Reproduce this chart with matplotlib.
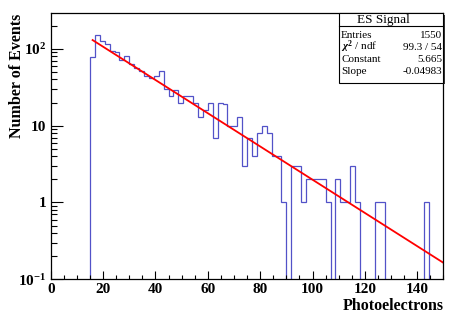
import matplotlib
matplotlib.use("Agg")
import matplotlib.pyplot as plt
from matplotlib.patches import Rectangle
from matplotlib.ticker import MultipleLocator, LogLocator, NullFormatter, FixedLocator, FixedFormatter
import numpy as np

plt.rcParams['font.family'] = ['Liberation Serif', 'DejaVu Serif']
plt.rcParams['font.weight'] = 'bold'
plt.rcParams['mathtext.fontset'] = 'custom'
plt.rcParams['mathtext.rm'] = 'Liberation Serif:bold'
plt.rcParams['mathtext.it'] = 'Liberation Serif:italic'
plt.rcParams['mathtext.bf'] = 'Liberation Serif:bold'

#region data
hist_lo, hist_hi, n_bins = 0.0, 150.0, 80
first_bin = 8   # bins below 15 are empty
counts = [78, 152, 128, 116, 94, 90, 72, 81, 63, 57, 51, 44, 42, 44, 51,
          30, 24, 29, 20, 24, 24, 20, 13, 16, 20, 7, 20, 19, 10, 10, 13,
          3, 7, 4, 8, 10, 8, 4, 4, 1,
          0,
          3, 3, 1, 2, 2, 2, 2, 1, 0, 2, 1, 1, 3, 1,
          0, 0, 0,
          1, 1,
          0, 0, 0, 0, 0, 0, 0, 0,
          1,
          0, 0, 0]
fit_constant = 5.665
fit_slope = -0.04983
fit_range = (16, 150)
stats_title = "ES Signal"
stats_rows = [("Entries", "1550"),
              (r"$\mathit{\chi}^{2}$ / ndf", "99.3 / 54"),
              ("Constant", "5.665"),
              ("Slope", "-0.04983")]
ytick_vals = [0.1, 1, 10, 100]
ytick_text = ["10$^{-1}$", "1", "10", "10$^{2}$"]
#endregion

W, H = 456, 314
def fx(x): return x / W
def fy(y): return 1 - y / H

fig = plt.figure(figsize=(W / 100, H / 100), dpi=100)
ax = fig.add_axes([fx(50.7), fy(279.3), fx(443.5) - fx(50.7), fy(13.3) - fy(279.3)])

edges = np.linspace(hist_lo, hist_hi, n_bins + 1)
vals = np.zeros(n_bins)
vals[first_bin:first_bin + len(counts)] = counts
vals = np.where(vals > 0, vals, 1e-3)
ax.stairs(vals, edges, color='#5252c8', lw=0.9, baseline=None)

xf = np.linspace(fit_range[0], fit_range[1], 300)
ax.plot(xf, np.exp(fit_constant + fit_slope * xf), color='#ff0000', lw=1.3)

ax.set_yscale('log')
ax.set_xlim(0, 150)
ax.set_ylim(0.1, 290)

ax.xaxis.set_major_locator(MultipleLocator(20))
ax.xaxis.set_minor_locator(MultipleLocator(5))
ax.yaxis.set_major_locator(FixedLocator(ytick_vals))
ax.yaxis.set_major_formatter(FixedFormatter(ytick_text))
ax.yaxis.set_minor_locator(LogLocator(base=10, subs=np.arange(2, 10)))
ax.yaxis.set_minor_formatter(NullFormatter())

ax.tick_params(axis='both', which='both', direction='in', top=False, right=False,
               labelsize=11, width=0.8, color='black')
ax.tick_params(axis='x', which='major', length=5.8, pad=3)
ax.tick_params(axis='x', which='minor', length=2.9)
ax.tick_params(axis='y', which='major', length=8.6, pad=3)
ax.tick_params(axis='y', which='minor', length=4.3)
for s in ax.spines.values():
    s.set_linewidth(0.9)

fig.text(fx(443.5), fy(306), "Photoelectrons", ha='right', va='center', fontsize=11.5, fontweight='bold')
fig.text(fx(17.5), fy(14), "Number of Events", ha='center', va='top', rotation=90,
         fontsize=11.5, fontweight='bold')

# stats box
bx0, bx1, by0, by1 = 339.3, 443.5, 13.3, 82.7
fig.patches.append(Rectangle((fx(bx0 + 1.5), fy(by1 + 1.5)), fx(bx1) - fx(bx0), fy(by0) - fy(by1),
                             transform=fig.transFigure, facecolor='#333333', edgecolor='none', zorder=5))
fig.patches.append(Rectangle((fx(bx0), fy(by1)), fx(bx1) - fx(bx0), fy(by0) - fy(by1),
                             transform=fig.transFigure, facecolor='white', edgecolor='black', lw=0.8, zorder=6))
fig.lines.append(plt.Line2D([fx(bx0), fx(bx1)], [fy(25.5), fy(25.5)], transform=fig.transFigure,
                            color='black', lw=0.8, zorder=7))
fig.text(fx(383), fy(19.5), stats_title, ha='center', va='center', fontsize=9.5, fontweight='normal', zorder=8)
for i, (name, val) in enumerate(stats_rows):
    y = 35 + 12 * i
    fig.text(fx(341), fy(y), name, ha='left', va='center', fontsize=8, fontweight='normal', zorder=8)
    fig.text(fx(442.5), fy(y), val, ha='right', va='center', fontsize=8, fontweight='normal', zorder=8)

plt.savefig("out.png", dpi=100)
